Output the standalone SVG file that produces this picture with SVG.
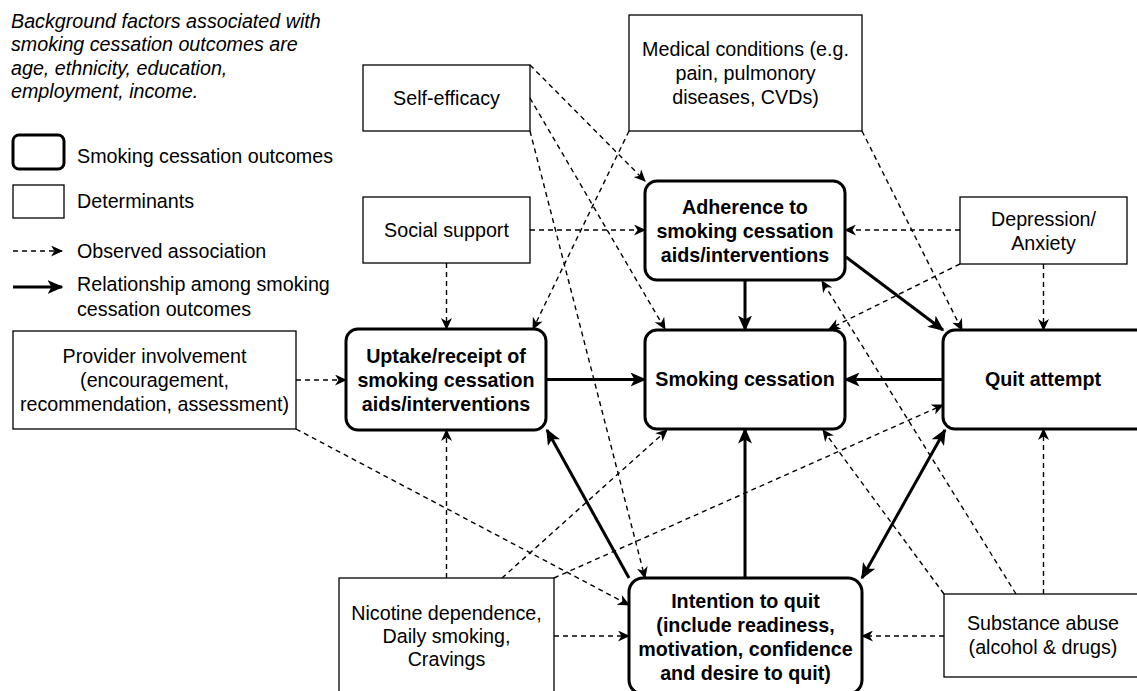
<svg xmlns="http://www.w3.org/2000/svg" width="1137" height="691" viewBox="0 0 1137 691">
<defs>
<style>
text{font-family:"Liberation Sans",Arial,Helvetica,sans-serif;font-size:19.7px;fill:#000}
.c{text-anchor:middle}
.b{font-weight:bold}
.it{font-style:italic}
.det{fill:#fff;stroke:#000;stroke-width:1.3}
.out{fill:#fff;stroke:#000;stroke-width:3}
.dl{stroke:#000;stroke-width:1.4;stroke-dasharray:5 4;fill:none;marker-end:url(#ad)}
.sl{stroke:#000;stroke-width:3;fill:none;marker-end:url(#as)}
.both{marker-start:url(#as2)}
</style>
<marker id="as" markerUnits="userSpaceOnUse" viewBox="0 0 16 14" markerWidth="16" markerHeight="14" refX="14.5" refY="7" orient="auto"><path d="M0,0 L16,7 L0,14 L4,7 Z" fill="#000"/></marker>
<marker id="as2" markerUnits="userSpaceOnUse" viewBox="0 0 16 14" markerWidth="16" markerHeight="14" refX="14.5" refY="7" orient="auto-start-reverse"><path d="M0,0 L16,7 L0,14 L4,7 Z" fill="#000"/></marker>
<marker id="ad" markerUnits="userSpaceOnUse" viewBox="0 0 12 11" markerWidth="12" markerHeight="11" refX="11" refY="5.5" orient="auto"><path d="M0,0 L12,5.5 L0,11 L3.5,5.5 Z" fill="#000"/></marker>
</defs>
<rect x="0" y="0" width="1137" height="691" fill="#fff"/>

<g id="background-note">
<text class="it" x="11" y="27.5">Background factors associated with</text>
<text class="it" x="11" y="51">smoking cessation outcomes are</text>
<text class="it" x="11" y="74.5">age, ethnicity, education,</text>
<text class="it" x="11" y="98">employment, income.</text>
</g>

<g id="legend">
<rect class="out" x="13" y="135" width="51" height="34" rx="6"/>
<text x="77" y="163">Smoking cessation outcomes</text>
<rect class="det" x="13" y="185" width="51" height="33"/>
<text x="77" y="208">Determinants</text>
<line class="dl" x1="13" y1="251" x2="62" y2="251"/>
<text x="77" y="258">Observed association</text>
<line class="sl" x1="13" y1="287" x2="62" y2="287"/>
<text x="77" y="291">Relationship among smoking</text>
<text x="77" y="316">cessation outcomes</text>
</g>

<g id="self-efficacy">
<rect class="det" x="363" y="65" width="167" height="66"/>
<text class="c" x="446.5" y="105">Self-efficacy</text>
</g>
<g id="social-support">
<rect class="det" x="363" y="197" width="167" height="66"/>
<text class="c" x="446.5" y="237">Social support</text>
</g>
<g id="medical-conditions">
<rect class="det" x="629" y="15" width="233" height="116"/>
<text class="c" x="745.5" y="56">Medical conditions (e.g.</text>
<text class="c" x="745.5" y="80">pain, pulmonory</text>
<text class="c" x="745.5" y="104">diseases, CVDs)</text>
</g>
<g id="adherence">
<rect class="out" x="645" y="181" width="200" height="99" rx="12"/>
<text class="c b" x="745" y="213.5">Adherence to</text>
<text class="c b" x="745" y="237.5">smoking cessation</text>
<text class="c b" x="745" y="261.5">aids/interventions</text>
</g>
<g id="depression">
<rect class="det" x="960" y="197" width="167" height="67"/>
<text class="c" x="1043.5" y="225.5">Depression/</text>
<text class="c" x="1043.5" y="249.5">Anxiety</text>
</g>
<g id="provider">
<rect class="det" x="13" y="331" width="283" height="98"/>
<text class="c" x="154.5" y="363">Provider involvement</text>
<text class="c" x="154.5" y="387">(encouragement,</text>
<text class="c" x="154.5" y="411">recommendation, assessment)</text>
</g>
<g id="uptake">
<rect class="out" x="346" y="329" width="200" height="101" rx="12"/>
<text class="c b" x="446" y="362.5">Uptake/receipt of</text>
<text class="c b" x="446" y="386.5">smoking cessation</text>
<text class="c b" x="446" y="410.5">aids/interventions</text>
</g>
<g id="smoking-cessation">
<rect class="out" x="645" y="330" width="200" height="99" rx="12"/>
<text class="c b" x="745" y="386">Smoking cessation</text>
</g>
<g id="quit-attempt">
<rect class="out" x="943" y="330" width="220" height="99" rx="12"/>
<text class="c b" x="1043" y="386">Quit attempt</text>
</g>
<g id="nicotine">
<rect class="det" x="339" y="578" width="215" height="118"/>
<text class="c" x="446.5" y="620">Nicotine dependence,</text>
<text class="c" x="446.5" y="643">Daily smoking,</text>
<text class="c" x="446.5" y="666">Cravings</text>
</g>
<g id="intention">
<rect class="out" x="629" y="578" width="233" height="116" rx="14"/>
<text class="c b" x="745.5" y="607.5">Intention to quit</text>
<text class="c b" x="745.5" y="631.5">(include readiness,</text>
<text class="c b" x="745.5" y="655.5">motivation, confidence</text>
<text class="c b" x="745.5" y="679.5">and desire to quit)</text>
</g>
<g id="substance">
<rect class="det" x="944" y="594" width="210" height="83"/>
<text class="c" x="1043" y="630">Substance abuse</text>
<text class="c" x="1043" y="654">(alcohol &amp; drugs)</text>
</g>

<g id="connectors">
<line class="dl" x1="530" y1="65" x2="645" y2="181"/>
<line class="dl" x1="530" y1="98" x2="665" y2="329"/>
<line class="dl" x1="530" y1="131" x2="645" y2="578"/>
<line class="dl" x1="530" y1="230" x2="645" y2="230"/>
<line class="dl" x1="446.5" y1="263" x2="446.5" y2="329"/>
<line class="dl" x1="629" y1="131" x2="533" y2="329"/>
<line class="dl" x1="862" y1="131" x2="962" y2="330"/>
<line class="dl" x1="960" y1="230" x2="845" y2="230"/>
<line class="dl" x1="960" y1="264" x2="829" y2="329"/>
<line class="dl" x1="1043.5" y1="264" x2="1043.5" y2="330"/>
<line class="dl" x1="296" y1="380" x2="346" y2="380"/>
<line class="dl" x1="296" y1="429" x2="629" y2="605"/>
<line class="dl" x1="446.5" y1="578" x2="446.5" y2="430"/>
<line class="dl" x1="502" y1="578" x2="667" y2="430"/>
<line class="dl" x1="554" y1="636" x2="629" y2="636"/>
<line class="dl" x1="554" y1="578" x2="943" y2="405"/>
<line class="dl" x1="944" y1="636" x2="862" y2="636"/>
<line class="dl" x1="1043.5" y1="594" x2="1043.5" y2="429"/>
<line class="dl" x1="944" y1="594" x2="823" y2="430"/>
<line class="dl" x1="1016" y1="594" x2="822" y2="281"/>
<line class="sl" x1="745" y1="280" x2="745" y2="330"/>
<line class="sl" x1="846" y1="257" x2="943" y2="330"/>
<line class="sl" x1="546" y1="379.5" x2="645" y2="379.5"/>
<line class="sl" x1="943" y1="379.5" x2="845" y2="379.5"/>
<line class="sl" x1="745" y1="578" x2="745" y2="429"/>
<line class="sl" x1="629" y1="578" x2="547" y2="430"/>
<line class="sl both" x1="862" y1="578" x2="945" y2="430"/>
</g>
</svg>
